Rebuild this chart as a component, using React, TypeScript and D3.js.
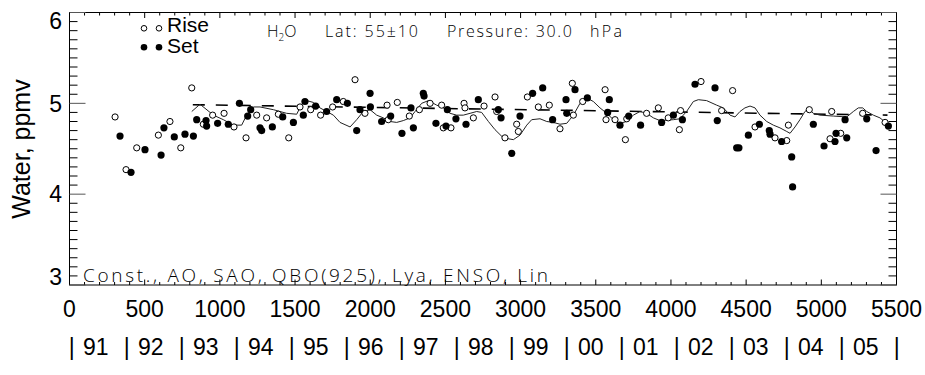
import React from 'react';
import * as d3 from 'd3';

const xTickValues = [0, 500, 1000, 1500, 2000, 2500, 3000, 3500, 4000, 4500, 5000, 5500];
const yTickValues = [3, 4, 5, 6];
const yearLabels = ['91', '92', '93', '94', '95', '96', '97', '98', '99', '00', '01', '02', '03', '04', '05'];

const riseDays = [303, 376, 447, 591, 668, 740, 813, 890, 952, 1028, 1094, 1174, 1245, 1311, 1389, 1458, 1533, 1604, 1670, 1750, 1821, 1899, 1965, 2112, 2120, 2180, 2260, 2327, 2398, 2475, 2486, 2537, 2624, 2630, 2686, 2757, 2830, 2841, 2896, 2974, 2985, 3045, 3118, 3191, 3262, 3344, 3351, 3413, 3562, 3568, 3628, 3697, 3706, 3838, 3916, 3982, 4056, 4064, 4200, 4337, 4410, 4559, 4692, 4770, 4781, 4920, 5058, 5069, 5129, 5275, 5424];
const riseVals = [4.85, 4.27, 4.51, 4.65, 4.80, 4.51, 5.17, 4.77, 4.87, 4.89, 4.74, 4.62, 4.87, 4.84, 4.88, 4.62, 4.96, 4.93, 4.87, 4.96, 5.02, 5.26, 4.89, 4.98, 4.82, 5.01, 4.86, 4.93, 5.00, 4.98, 4.73, 4.73, 5.00, 4.95, 4.84, 4.97, 5.07, 4.91, 4.62, 4.77, 4.69, 5.07, 4.96, 4.98, 4.72, 5.22, 4.87, 5.02, 5.15, 4.82, 4.82, 4.60, 4.83, 4.89, 4.95, 4.84, 4.71, 4.92, 5.24, 4.92, 5.14, 4.74, 4.62, 4.59, 4.76, 4.93, 4.61, 4.91, 4.67, 4.89, 4.79];

const setDays = [336, 409, 502, 609, 628, 697, 768, 824, 846, 908, 912, 985, 1056, 1130, 1185, 1205, 1267, 1278, 1349, 1418, 1489, 1555, 1566, 1637, 1710, 1777, 1848, 1910, 1932, 1999, 2001, 2076, 2136, 2211, 2271, 2287, 2353, 2358, 2437, 2504, 2513, 2570, 2637, 2719, 2852, 2870, 2941, 2996, 3080, 3147, 3213, 3302, 3307, 3362, 3444, 3579, 3590, 3661, 3719, 3798, 3938, 4016, 4076, 4160, 4293, 4308, 4437, 4452, 4515, 4588, 4654, 4659, 4736, 4803, 4809, 4947, 5018, 5091, 5098, 5158, 5169, 5302, 5364, 5446];
const setVals = [4.64, 4.24, 4.49, 4.43, 4.73, 4.63, 4.66, 4.64, 4.82, 4.81, 4.75, 4.78, 4.77, 5.00, 4.86, 4.93, 4.73, 4.70, 4.74, 4.85, 4.79, 4.87, 5.02, 4.97, 4.91, 5.04, 5.00, 4.70, 4.93, 5.11, 4.96, 4.80, 4.86, 4.67, 4.95, 4.73, 5.11, 5.08, 4.78, 4.75, 4.93, 4.83, 4.77, 5.04, 4.93, 4.84, 4.45, 4.86, 5.11, 5.17, 4.82, 5.04, 4.89, 5.15, 5.06, 4.90, 5.04, 4.76, 4.86, 4.76, 4.79, 4.87, 4.82, 5.21, 5.17, 4.81, 4.51, 4.51, 4.65, 4.77, 4.70, 4.66, 4.58, 4.41, 4.08, 4.77, 4.53, 4.58, 4.67, 4.82, 4.62, 4.83, 4.48, 4.75];

const fitDays = [813, 868, 957, 1023, 1090, 1145, 1178, 1223, 1267, 1356, 1444, 1511, 1544, 1577, 1622, 1666, 1710, 1755, 1799, 1866, 1910, 1954, 1999, 2043, 2087, 2132, 2176, 2220, 2265, 2298, 2342, 2387, 2442, 2486, 2531, 2575, 2619, 2664, 2708, 2741, 2786, 2830, 2885, 2952, 2996, 3041, 3074, 3129, 3174, 3218, 3262, 3307, 3351, 3395, 3440, 3484, 3528, 3573, 3617, 3661, 3705, 3750, 3794, 3838, 3883, 3927, 4016, 4060, 4104, 4149, 4182, 4237, 4304, 4348, 4393, 4426, 4459, 4492, 4526, 4559, 4592, 4637, 4681, 4725, 4770, 4792, 4825, 4858, 4891, 4914, 4947, 4991, 5080, 5169, 5213, 5246, 5275, 5302, 5346, 5390, 5435];
const fitVals = [4.91, 4.99, 4.87, 4.82, 4.76, 4.76, 4.87, 4.96, 4.96, 4.93, 4.89, 4.88, 4.99, 5.03, 5.01, 4.95, 4.91, 4.87, 4.79, 4.74, 4.82, 4.91, 4.93, 4.87, 4.84, 4.80, 4.79, 4.81, 4.84, 4.91, 5.00, 5.03, 4.98, 4.95, 4.89, 4.87, 4.87, 4.89, 4.91, 4.90, 4.80, 4.71, 4.62, 4.60, 4.65, 4.76, 4.82, 4.83, 4.80, 4.79, 4.77, 4.78, 4.87, 5.00, 5.06, 5.02, 4.95, 4.89, 4.82, 4.78, 4.80, 4.87, 4.91, 4.89, 4.84, 4.81, 4.82, 4.83, 4.91, 5.02, 5.04, 5.03, 4.98, 4.95, 4.87, 4.85, 4.91, 4.95, 4.97, 4.95, 4.87, 4.80, 4.76, 4.73, 4.69, 4.67, 4.74, 4.82, 4.91, 4.94, 4.89, 4.87, 4.86, 4.85, 4.91, 4.95, 4.95, 4.91, 4.87, 4.84, 4.78];

const trendDays = [820, 5440];
const trendVals = [4.985, 4.87];

const SANS = '"Liberation Sans", Arial, sans-serif';
const THIN = '"Open Sans", "DejaVu Sans", sans-serif';

export default function App() {
  const x = d3.scaleLinear().domain([0, 5500]).range([69.5, 896.5]);
  const y = d3.scaleLinear().domain([3, 6]).range([285, 12.5]);
  const yearX = d3.scaleLinear().domain([0, 15]).range([71.7, 896.7]);
  const [x0, x1] = x.range();
  const [yb, yt] = y.range();

  const line = d3.line<[number, number]>().x(d => x(d[0])).y(d => y(d[1]));
  const fitPath = line(fitDays.map((d, i) => [d, fitVals[i]] as [number, number])) || '';
  const trendPath = line(trendDays.map((d, i) => [d, trendVals[i]] as [number, number])) || '';

  const xMinor = d3.range(0, 5501, 100);
  const yMinor = d3.range(30, 61, 1).map(v => v / 10);

  return (
    <svg width={925} height={375} style={{ position: 'absolute', left: 0, top: 0, background: '#fff' }}>
      <rect x={0} y={0} width={925} height={375} fill="#fff" />
      <rect x={x0} y={yt} width={x1 - x0} height={yb - yt} fill="none" stroke="#000" strokeWidth={1} />
      {xMinor.map(v => {
        const major = v % 500 === 0;
        const len = major ? 5.5 : 3;
        return (
          <g key={'xt' + v}>
            <line x1={x(v)} x2={x(v)} y1={yb} y2={yb - len} stroke="#000" strokeWidth={1} />
            <line x1={x(v)} x2={x(v)} y1={yt} y2={yt + len} stroke="#000" strokeWidth={1} />
          </g>
        );
      })}
      {yMinor.map(v => {
        const major = Math.abs(v - Math.round(v)) < 1e-6;
        const len = major ? 16 : 8;
        return (
          <g key={'yt' + v}>
            <line x1={x0} x2={x0 + len} y1={y(v)} y2={y(v)} stroke={major ? '#555' : '#000'} strokeWidth={1} />
            <line x1={x1} x2={x1 - len} y1={y(v)} y2={y(v)} stroke={major ? '#555' : '#000'} strokeWidth={1} />
          </g>
        );
      })}
      {xTickValues.map(v => (
        <text key={'xl' + v} x={x(v)} y={317} textAnchor="middle" fontFamily={SANS} fontSize={23} fill="#000">{v}</text>
      ))}
      {yTickValues.map(v => {
        let cy = y(v);
        if (v === 6) cy = 20.5;
        if (v === 3) cy = 276.5;
        return (
          <text key={'yl' + v} x={62} y={cy} dy="0.36em" textAnchor="end" fontFamily={SANS} fontSize={23} fill="#000">{v}</text>
        );
      })}
      <text transform="translate(30,149) rotate(-90)" textAnchor="middle" fontFamily={SANS} fontSize={25} fill="#000">Water, ppmv</text>
      {d3.range(0, 16).map(i => (
        <text key={'yb' + i} x={yearX(i)} y={355} textAnchor="middle" fontFamily={SANS} fontSize={23} fill="#000">|</text>
      ))}
      {yearLabels.map((lab, i) => (
        <text key={'yr' + lab} x={yearX(i) + 24} y={355} textAnchor="middle" fontFamily={SANS} fontSize={23} fill="#000">{lab}</text>
      ))}
      <path d={trendPath} fill="none" stroke="#000" strokeWidth={1.6} strokeDasharray="12,11" />
      <path d={fitPath} fill="none" stroke="#222" strokeWidth={1} />
      {riseDays.map((d, i) => (
        <circle key={'r' + i} cx={x(d)} cy={y(riseVals[i])} r={3.1} fill="#fff" stroke="#000" strokeWidth={1} />
      ))}
      {setDays.map((d, i) => (
        <circle key={'s' + i} cx={x(d)} cy={y(setVals[i])} r={3.6} fill="#000" />
      ))}
      <circle cx={144} cy={28.3} r={2.8} fill="#fff" stroke="#000" strokeWidth={1} />
      <circle cx={159} cy={28.3} r={2.8} fill="#fff" stroke="#000" strokeWidth={1} />
      <text x={167} y={32} fontFamily={SANS} fontSize={21} fill="#000">Rise</text>
      <circle cx={144} cy={47.3} r={3.3} fill="#000" />
      <circle cx={159} cy={47.3} r={3.3} fill="#000" />
      <text x={167} y={53} fontFamily={SANS} fontSize={21} fill="#000">Set</text>
      <text x={267} y={37} fontFamily={THIN} fontWeight={300} fontSize={16} fill="#000">
        <tspan>H</tspan><tspan dy={4} fontSize={10}>2</tspan><tspan dy={-4}>O</tspan>
      </text>
      <text x={325} y={37} fontFamily={THIN} fontWeight={300} fontSize={16} fill="#000" textLength={93} lengthAdjust="spacing">Lat: 55±10</text>
      <text x={447} y={37} fontFamily={THIN} fontWeight={300} fontSize={16} fill="#000" textLength={125} lengthAdjust="spacing">Pressure: 30.0</text>
      <text x={590} y={37} fontFamily={THIN} fontWeight={300} fontSize={16} fill="#000" textLength={32} lengthAdjust="spacing">hPa</text>
      <text x={83} y={282} fontFamily={THIN} fontWeight={300} fontSize={19} fill="#000" textLength={465} lengthAdjust="spacing">Const., AO, SAO, QBO(925), Lya, ENSO, Lin</text>
    </svg>
  );
}
